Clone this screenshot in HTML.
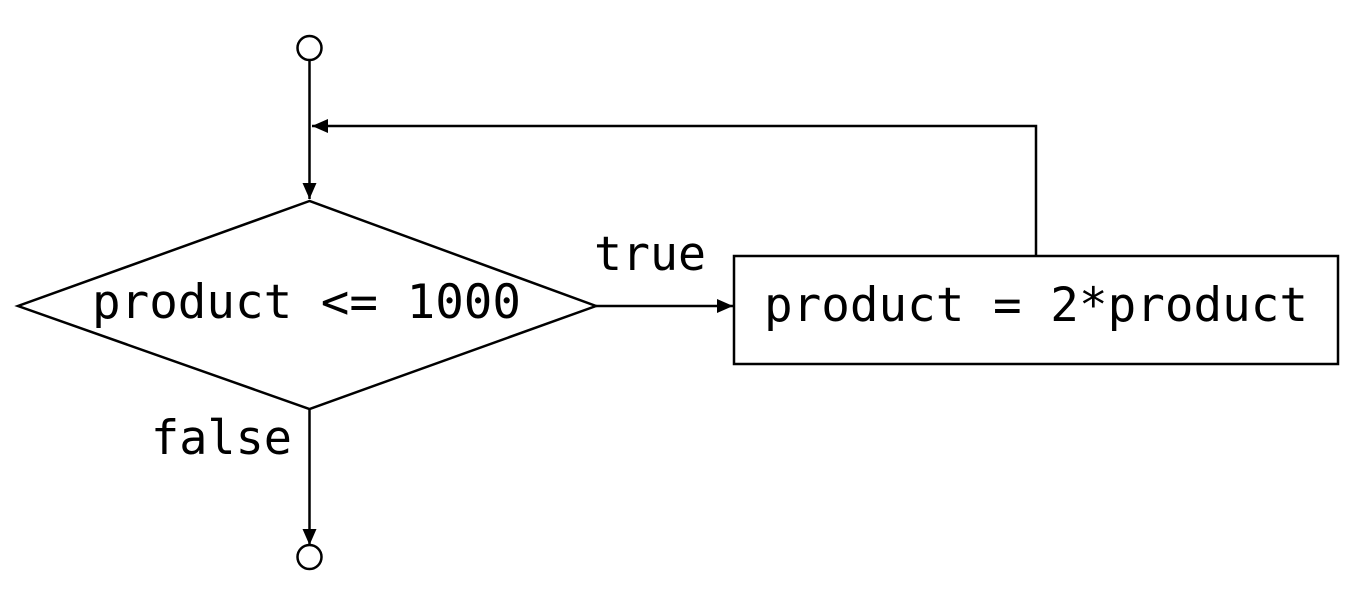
<!DOCTYPE html>
<html><head><style>
html,body{margin:0;padding:0;background:#fff;}
svg{display:block;}
text{font-family:"DejaVu Sans Mono","Liberation Mono",monospace;font-size:47px;fill:#000;}
</style></head><body>
<svg width="1366" height="597" viewBox="0 0 1366 597">
<defs>
<marker id="a" markerWidth="16" markerHeight="14" refX="16" refY="7" orient="auto" markerUnits="userSpaceOnUse">
<path d="M0,0 L16,7 L0,14 Z" fill="#000"/>
</marker>
</defs>
<g stroke="#000" stroke-width="2.5" fill="none">
<circle cx="309.5" cy="48" r="12" fill="#fff"/>
<line x1="309.5" y1="60" x2="309.5" y2="199" marker-end="url(#a)"/>
<polyline points="1036,256 1036,126 312,126" marker-end="url(#a)"/>
<polygon points="309.5,201 18,306 309.5,409 596,306" fill="#fff"/>
<line x1="596" y1="306" x2="733" y2="306" marker-end="url(#a)"/>
<rect x="734" y="256" width="604" height="108" fill="#fff"/>
<line x1="309.5" y1="409" x2="309.5" y2="545" marker-end="url(#a)"/>
<circle cx="309.5" cy="557" r="12" fill="#fff"/>
</g>
<text x="92" y="318" textLength="429" lengthAdjust="spacingAndGlyphs">product &lt;= 1000</text>
<text x="764" y="321" textLength="544" lengthAdjust="spacingAndGlyphs">product = 2*product</text>
<text x="594" y="270" textLength="112" lengthAdjust="spacingAndGlyphs">true</text>
<text x="151" y="454" textLength="141" lengthAdjust="spacingAndGlyphs">false</text>
</svg>
</body></html>
